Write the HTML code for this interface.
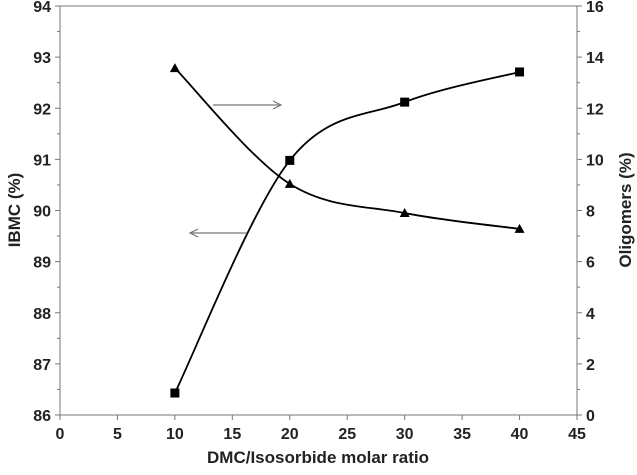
<!DOCTYPE html>
<html><head><meta charset="utf-8"><style>
body{margin:0;background:#fff}
svg text{font-family:"Liberation Sans",sans-serif;font-weight:bold;fill:#222}
</style></head><body>
<svg width="637" height="470" id="c">
<rect x="60" y="6" width="517" height="409" fill="none" stroke="#777" stroke-width="1"/>
<g id="ticks"></g>
<g id="series"></g>
<line x1="213" y1="105" x2="281" y2="105" stroke="#777" stroke-width="1.2"/>
<polyline points="273,101 281,105 273,109" fill="none" stroke="#777" stroke-width="1.2"/>
<line x1="190" y1="233" x2="247" y2="233" stroke="#777" stroke-width="1.2"/>
<polyline points="198,229 190,233 198,237" fill="none" stroke="#777" stroke-width="1.2"/>
<text x="318" y="463" text-anchor="middle" font-size="17">DMC/Isosorbide molar ratio</text>
<text transform="translate(20,210) rotate(-90)" text-anchor="middle" font-size="17">IBMC (%)</text>
<text transform="translate(631,210) rotate(-90)" text-anchor="middle" font-size="17">Oligomers (%)</text>
</svg>
<script>
const xTicks=[0,5,10,15,20,25,30,35,40,45];
const leftTicks=[86,87,88,89,90,91,92,93,94];
const rightTicks=[0,2,4,6,8,10,12,14,16];
const ratios=[10,20,30,40];
const ibmc=[86.43,90.98,92.12,92.71];
const oligomers=[13.57,9.04,7.9,7.28];
const L=60,R=577,T=6,B=415,NS='http://www.w3.org/2000/svg';
const X=v=>L+(v-0)/45*(R-L);
const YL=v=>B-(v-86)/8*(B-T);
const YR=v=>B-(v-0)/16*(B-T);
function mk(tag,a,p){const e=document.createElementNS(NS,tag);for(const k in a)e.setAttribute(k,a[k]);p.appendChild(e);return e;}
const tg=document.getElementById('ticks'),sg=document.getElementById('series');
xTicks.forEach(v=>{
 const l=mk('line',{x1:X(v),x2:X(v),y1:B,y2:B+5,stroke:'#777'},tg);
 
 
 const t=mk('text',{x:X(v),y:B+24,'text-anchor':'middle','font-size':16},tg);t.textContent=v;
 
 
});
for(let v=86;v<=94;v+=0.5){const l=mk('line',{x1:L-(v%1?3:5),x2:L,y1:YL(v),y2:YL(v),stroke:'#777'},tg);
 
 }
leftTicks.forEach(v=>{const t=mk('text',{x:L-9,y:YL(v)+6,'text-anchor':'end','font-size':16},tg);t.textContent=v;
 
 });
for(let v=0;v<=16;v+=1){const l=mk('line',{x1:R,x2:R+(v%2?3:5),y1:YR(v),y2:YR(v),stroke:'#777'},tg);
 
 }
rightTicks.forEach(v=>{const t=mk('text',{x:R+9,y:YR(v)+6,'text-anchor':'start','font-size':16},tg);t.textContent=v;
 
 });
function smooth(p){let d='M'+p[0][0]+','+p[0][1];for(let i=0;i<p.length-1;i++){const p0=p[i-1]||p[i],p1=p[i],p2=p[i+1],p3=p[i+2]||p2;const k=1/6;
 d+=` C${p1[0]+(p2[0]-p0[0])*k},${p1[1]+(p2[1]-p0[1])*k} ${p2[0]-(p3[0]-p1[0])*k},${p2[1]-(p3[1]-p1[1])*k} ${p2[0]},${p2[1]}`;}return d;}
const pI=ratios.map((r,i)=>[X(r),YL(ibmc[i])]);
const pO=ratios.map((r,i)=>[X(r),YR(oligomers[i])]);
const l1=mk('path',{d:smooth(pI),fill:'none',stroke:'#000','stroke-width':1.8},sg);


const l2=mk('path',{d:smooth(pO),fill:'none',stroke:'#000','stroke-width':1.8},sg);


pI.forEach(p=>{const m=mk('rect',{x:p[0]-4.5,y:p[1]-4.5,width:9,height:9,fill:'#000'},sg);
 
 });
pO.forEach(p=>{const m=mk('polygon',{points:`${p[0]-5},${p[1]+4} ${p[0]+5},${p[1]+4} ${p[0]},${p[1]-5}`,fill:'#000'},sg);
 
 });
</script>
</body></html>
